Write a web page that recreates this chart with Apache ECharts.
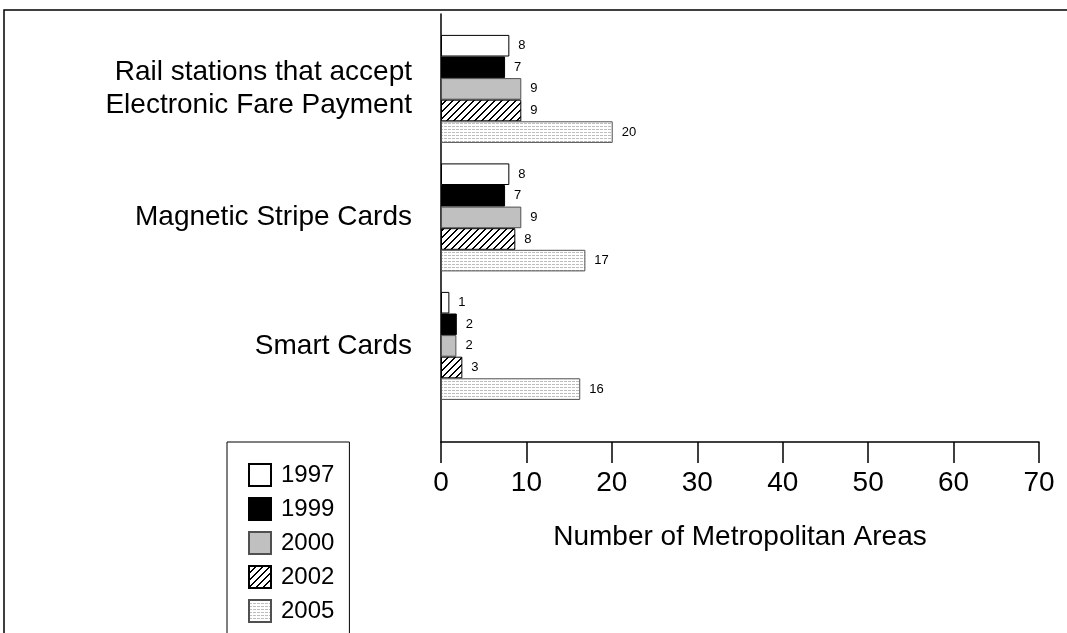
<!DOCTYPE html>
<html>
<head>
<meta charset="utf-8">
<script src="https://cdn.jsdelivr.net/npm/echarts@6/dist/echarts.min.js"></script>
<style>
html,body{margin:0;padding:0;background:#fff;}
#chart{width:1067px;height:633px;}
</style>
</head>
<body>
<div id="chart"></div>
<script>
// ---- data ----
const categories = ['Rail stations that accept\nElectronic Fare Payment', 'Magnetic Stripe Cards', 'Smart Cards'];
const years = ['1997', '1999', '2000', '2002', '2005'];
const v1997 = [8.0, 8.0, 0.98];
const v1999 = [7.5, 7.5, 1.85];
const v2000 = [9.4, 9.4, 1.8];
const v2002 = [9.4, 8.7, 2.5];
const v2005 = [20.1, 16.9, 16.3];
const lab1997 = [8, 8, 1];
const lab1999 = [7, 7, 2];
const lab2000 = [9, 9, 2];
const lab2002 = [9, 8, 3];
const lab2005 = [20, 17, 16];
const xTicks = [0, 10, 20, 30, 40, 50, 60, 70];

// ---- patterns ----
function hatchPattern() {
  const n = 7;
  const c = document.createElement('canvas');
  c.width = n; c.height = n;
  const g = c.getContext('2d');
  g.fillStyle = '#ffffff'; g.fillRect(0, 0, n, n);
  g.fillStyle = '#000000';
  for (let y = 0; y < n; y++) {
    const x0 = n - 1 - y;
    g.fillRect(x0, y, 1, 1);
    g.fillRect((x0 + 1) % n, y, 1, 1);
  }
  return c;
}
function dotPattern() {
  const c = document.createElement('canvas');
  c.width = 4; c.height = 3;
  const g = c.getContext('2d');
  g.fillStyle = '#ffffff'; g.fillRect(0, 0, 4, 3);
  g.fillStyle = '#bdbdbd';
  g.fillRect(0, 0, 3, 1);
  return c;
}
const hatch = { image: hatchPattern(), repeat: 'repeat' };
const dots = { image: dotPattern(), repeat: 'repeat' };

const FONT = 'Liberation Sans, Arial, sans-serif';
const xMin = xTicks[0], xMax = xTicks[xTicks.length - 1], xInt = xTicks[1] - xTicks[0];

const styles = [
  { color: '#ffffff', borderColor: '#000000', borderWidth: 1 },
  { color: '#000000', borderColor: '#000000', borderWidth: 1 },
  { color: '#c0c0c0', borderColor: '#505050', borderWidth: 1 },
  { color: hatch, borderColor: '#000000', borderWidth: 1 },
  { color: dots, borderColor: '#505050', borderWidth: 1 }
];
const values = [v1997, v1999, v2000, v2002, v2005];
const labels = [lab1997, lab1999, lab2000, lab2002, lab2005];

const series = years.map((y, i) => ({
  name: y,
  type: 'bar',
  xAxisIndex: 0,
  yAxisIndex: 0,
  barWidth: 21.6,
  barGap: '0%',
  itemStyle: styles[i],
  label: {
    show: true,
    position: 'right',
    distance: 9,
    fontFamily: FONT,
    fontSize: 13,
    color: '#000',
    formatter: p => String(labels[i][p.dataIndex])
  },
  data: values[i]
}));

const chart = echarts.init(document.getElementById('chart'), null, { renderer: 'canvas' });
chart.setOption({
  animation: false,
  backgroundColor: '#ffffff',
  textStyle: { fontFamily: FONT },
  graphic: [{
    type: 'rect',
    shape: { x: 4, y: 10, width: 1200, height: 800 },
    style: { fill: 'none', stroke: '#000', lineWidth: 1.5 },
    silent: true
  }],
  legend: {
    data: years,
    orient: 'vertical',
    left: 227,
    top: 442,
    height: 300,
    padding: [21, 15, 21, 21],
    itemWidth: 22,
    itemHeight: 22,
    itemGap: 10,
    icon: 'rect',
    borderColor: '#000',
    borderWidth: 1,
    textStyle: { fontFamily: FONT, fontSize: 24, color: '#000', padding: [0, 0, 0, 5] }
  },
  grid: [
    { left: 441, right: 28, top: 24.65, height: 385.5, containLabel: false },
    { left: 441, right: 28, top: 14, height: 428, containLabel: false }
  ],
  xAxis: [
    { gridIndex: 0, type: 'value', min: xMin, max: xMax, interval: xInt, show: false },
    {
      gridIndex: 1, type: 'value', min: xMin, max: xMax, interval: xInt,
      axisLine: { show: true, lineStyle: { color: '#000', width: 1.5 } },
      axisTick: { show: true, length: 21, lineStyle: { color: '#000', width: 1.5 } },
      axisLabel: { fontFamily: FONT, fontSize: 28, color: '#000', margin: 27 },
      splitLine: { show: false },
      name: 'Number of Metropolitan Areas',
      nameLocation: 'middle',
      nameGap: 81,
      nameTextStyle: { fontFamily: FONT, fontSize: 28, color: '#000' }
    }
  ],
  yAxis: [
    {
      gridIndex: 0, type: 'category', inverse: true, data: categories,
      axisLine: { show: false }, axisTick: { show: false },
      axisLabel: { fontFamily: FONT, fontSize: 28, color: '#000', margin: 29, lineHeight: 33, align: 'right' }
    },
    {
      gridIndex: 1, type: 'value', min: 0, max: 1,
      axisLine: { show: true, lineStyle: { color: '#000', width: 1.5 } },
      axisTick: { show: false }, axisLabel: { show: false }, splitLine: { show: false }
    }
  ],
  series: series
});
</script>
</body>
</html>
